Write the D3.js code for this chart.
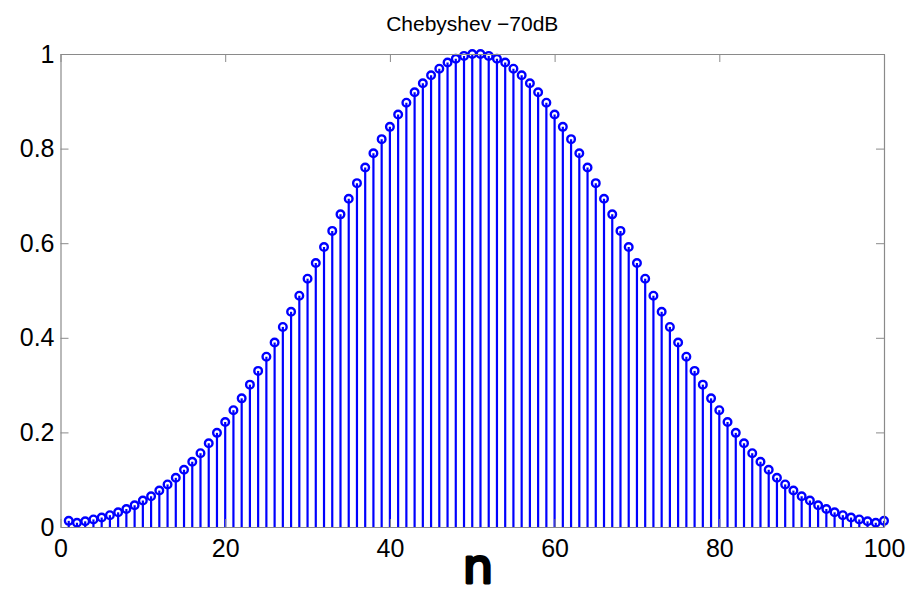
<!DOCTYPE html>
<html>
<head>
<meta charset="utf-8">
<script src="https://cdn.jsdelivr.net/npm/d3@7"></script>
<style>
  body { margin: 0; background: #fff; }
  svg { display: block; }
</style>
</head>
<body>
<div class="container"></div>
<script>
(function(d3) {
  "use strict";

  // window coefficients, n = 1..100
  var samples = d3.range(1, 101);
  var weights = [
    0.013, 0.009, 0.012, 0.016, 0.020, 0.025, 0.031, 0.038, 0.046, 0.056,
    0.065, 0.077, 0.090, 0.104, 0.121, 0.138, 0.156, 0.177, 0.199, 0.222,
    0.247, 0.272, 0.301, 0.330, 0.360, 0.390, 0.423, 0.455, 0.489, 0.525,
    0.558, 0.592, 0.626, 0.661, 0.694, 0.727, 0.760, 0.790, 0.820, 0.846,
    0.872, 0.897, 0.919, 0.938, 0.955, 0.969, 0.982, 0.990, 0.996, 1.000,
    1.000, 0.996, 0.990, 0.982, 0.969, 0.955, 0.938, 0.919, 0.897, 0.872,
    0.846, 0.820, 0.790, 0.760, 0.727, 0.694, 0.661, 0.626, 0.592, 0.558,
    0.525, 0.489, 0.455, 0.423, 0.390, 0.360, 0.330, 0.301, 0.272, 0.247,
    0.222, 0.199, 0.177, 0.156, 0.138, 0.121, 0.104, 0.090, 0.077, 0.065,
    0.056, 0.046, 0.038, 0.031, 0.025, 0.020, 0.016, 0.012, 0.009, 0.013
  ];
  var xTicks = [0, 20, 40, 60, 80, 100];
  var yTicks = [0, 0.2, 0.4, 0.6, 0.8, 1];
  var titleText = "Chebyshev \u221270dB";
  var xLabelText = "n";

  var width = 913, height = 595;
  var left = 60.5, right = 884, top = 54, bottom = 527;
  var axisColor = "#8a8a8a";
  var stemColor = "#0000ff";
  var font = "'Liberation Sans', Arial, Helvetica, sans-serif";

  var x = d3.scaleLinear().domain([0, 100]).range([left, right]);
  var y = d3.scaleLinear().domain([0, 1]).range([bottom, top]);

  var svg = d3.select(".container").append("svg")
      .attr("width", width)
      .attr("height", height);

  svg.append("rect")
      .attr("width", width)
      .attr("height", height)
      .attr("fill", "#fff");

  // stems
  var stems = svg.append("g").attr("class", "stems");

  stems.selectAll("line")
      .data(samples)
    .enter().append("line")
      .attr("x1", function(d) { return x(d); })
      .attr("x2", function(d) { return x(d); })
      .attr("y1", y(0))
      .attr("y2", function(d, i) { return y(weights[i]); })
      .attr("stroke", stemColor)
      .attr("stroke-width", 2.2);

  stems.selectAll("circle")
      .data(samples)
    .enter().append("circle")
      .attr("cx", function(d) { return x(d); })
      .attr("cy", function(d, i) { return y(weights[i]); })
      .attr("r", 3.8)
      .attr("fill", "none")
      .attr("stroke", stemColor)
      .attr("stroke-width", 2.4);

  // box with inward ticks on all four sides
  function styleAxis(g) {
    g.select(".domain").attr("stroke", axisColor);
    g.selectAll(".tick line").attr("stroke", axisColor);
    g.selectAll(".tick text")
        .attr("fill", "#000")
        .style("font-family", font)
        .style("font-size", "25px");
  }

  svg.append("g")
      .attr("transform", "translate(0," + bottom + ")")
      .call(d3.axisBottom(x).tickValues(xTicks).tickFormat(d3.format("d"))
        .tickSizeInner(-8).tickSizeOuter(0).tickPadding(12))
      .call(styleAxis);

  svg.append("g")
      .attr("transform", "translate(0," + top + ")")
      .call(d3.axisTop(x).tickValues(xTicks).tickFormat("")
        .tickSizeInner(-8).tickSizeOuter(0))
      .call(styleAxis);

  svg.append("g")
      .attr("transform", "translate(" + left + ",0)")
      .call(d3.axisLeft(y).tickValues(yTicks).tickFormat(function(d) { return d3.format("")(+d.toFixed(1)); })
        .tickSizeInner(-8).tickSizeOuter(0).tickPadding(6))
      .call(styleAxis);

  svg.append("g")
      .attr("transform", "translate(" + right + ",0)")
      .call(d3.axisRight(y).tickValues(yTicks).tickFormat("")
        .tickSizeInner(-8).tickSizeOuter(0))
      .call(styleAxis);

  svg.selectAll(".domain").attr("stroke-width", 1.2);

  // title
  svg.append("text")
      .attr("x", (left + right) / 2)
      .attr("y", 31)
      .attr("text-anchor", "middle")
      .style("font-family", font)
      .style("font-size", "21px")
      .attr("fill", "#000")
      .text(titleText);

  // hand-written axis label
  svg.append("text")
      .attr("x", 478)
      .attr("y", 583)
      .attr("text-anchor", "middle")
      .style("font-family", "'DejaVu Sans', sans-serif")
      .style("font-size", "48px")
      .attr("fill", "#000")
      .attr("stroke", "#000")
      .attr("stroke-width", 3)
      .attr("stroke-linejoin", "round")
      .text(xLabelText);

}(d3));
</script>
</body>
</html>
